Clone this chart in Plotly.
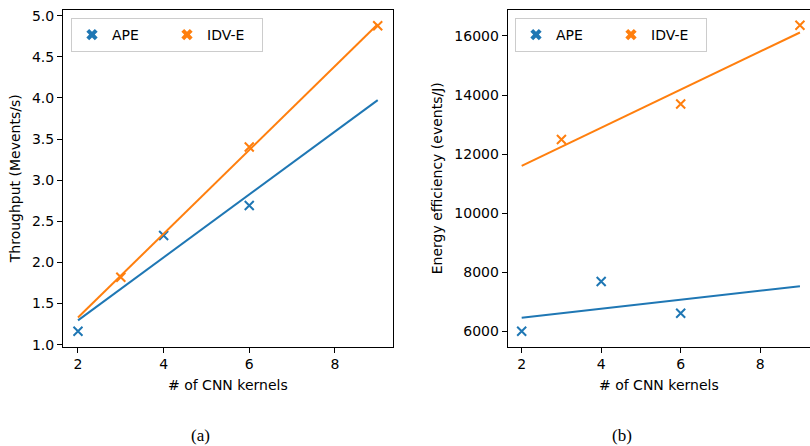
import numpy as np
import plotly.graph_objects as go

# ---- data ----
ape_kernels = [2, 4, 6]
ape_throughput = [1.163, 2.328, 2.693]
ape_energy = [6010, 7691, 6619]

idv_kernels = [3, 6, 9]
idv_throughput = [1.821, 3.404, 4.878]
idv_energy = [12495, 13695, 16360]

fit_x = [2, 9]

BLUE = "#1f77b4"
ORANGE = "#ff7f0e"
W, H = 810, 446
FONT = "DejaVu Sans"
FS = 14


def fit(xs, ys, xe):
    k, b = np.polyfit(xs, ys, 1)
    xe = np.array(xe, dtype=float)
    return xe, k * xe + b


fig = go.Figure()

panels = [
    ("x", "y", ape_throughput, idv_throughput, "legend"),
    ("x2", "y2", ape_energy, idv_energy, "legend2"),
]
for xa, ya, ape_v, idv_v, leg in panels:
    for kx, vals, col in ((ape_kernels, ape_v, BLUE), (idv_kernels, idv_v, ORANGE)):
        fx, fy = fit(kx, vals, fit_x)
        fig.add_trace(go.Scatter(x=fx, y=fy, mode="lines", line=dict(color=col, width=2),
                                 xaxis=xa, yaxis=ya, showlegend=False, hoverinfo="skip"))
        fig.add_trace(go.Scatter(x=kx, y=vals, mode="markers",
                                 marker=dict(symbol="x-thin-open", size=9, color=col,
                                             line=dict(color=col, width=2)),
                                 xaxis=xa, yaxis=ya, showlegend=False))
    for name, col in (("APE", BLUE), ("IDV-E", ORANGE)):
        fig.add_trace(go.Scatter(x=[None], y=[None], mode="markers", name=name,
                                 marker=dict(symbol="x", size=10, color=col),
                                 xaxis=xa, yaxis=ya, legend=leg))

axis_common = dict(showgrid=False, zeroline=False, showline=True, linecolor="black", linewidth=1,
                   ticks="outside", ticklen=5, tickwidth=1, tickcolor="black", automargin=False,
                   tickfont=dict(family=FONT, size=FS, color="black"))

ydom = [1 - 346.5 / H, 1 - 10 / H]

fig.update_layout(
    width=W, height=H, margin=dict(l=0, r=0, t=0, b=0),
    paper_bgcolor="white", plot_bgcolor="white",
    font=dict(family=FONT, size=FS, color="black"),
    xaxis=dict(domain=[63 / W, 392.7 / W], range=[1.65, 9.35], tickvals=[2, 4, 6, 8],
               mirror=True, anchor="y",
               title=dict(text="# of CNN kernels", font=dict(size=FS), standoff=8), **axis_common),
    yaxis=dict(domain=ydom, range=[0.978, 5.07], tickvals=[1.0, 1.5, 2.0, 2.5, 3.0, 3.5, 4.0, 4.5, 5.0],
               tickformat=".1f", mirror=True, anchor="x",
               title=dict(text="Throughput (Mevents/s)", font=dict(size=FS), standoff=8), **axis_common),
    xaxis2=dict(domain=[507.7 / W, 1.0], range=[1.648, 9.253], tickvals=[2, 4, 6, 8],
                mirror=True, anchor="y2",
                title=dict(text="# of CNN kernels", font=dict(size=FS), standoff=8), **axis_common),
    yaxis2=dict(domain=ydom, range=[5493, 16877], tickvals=[6000, 8000, 10000, 12000, 14000, 16000],
                tickformat="d", mirror=False, anchor="x2",
                title=dict(text="Energy efficiency (events/J)", font=dict(size=FS), standoff=8), **axis_common),
    legend=dict(orientation="h", x=71 / W, y=1 - 18 / H, xanchor="left", yanchor="top",
                bgcolor="rgba(255,255,255,0.8)", bordercolor="#cccccc", borderwidth=1,
                entrywidth=50, entrywidthmode="pixels", font=dict(size=FS)),
    legend2=dict(orientation="h", x=515 / W, y=1 - 18 / H, xanchor="left", yanchor="top",
                 bgcolor="rgba(255,255,255,0.8)", bordercolor="#cccccc", borderwidth=1,
                 entrywidth=50, entrywidthmode="pixels", font=dict(size=FS)),
    annotations=[
        dict(text="(a)", x=200.5 / W, y=1 - 435 / H, xref="paper", yref="paper", showarrow=False,
             xanchor="center", yanchor="middle",
             font=dict(family="Liberation Serif", size=17, color="black")),
        dict(text="(b)", x=622 / W, y=1 - 435 / H, xref="paper", yref="paper", showarrow=False,
             xanchor="center", yanchor="middle",
             font=dict(family="Liberation Serif", size=17, color="black")),
    ],
)

fig.write_html("out.html")
